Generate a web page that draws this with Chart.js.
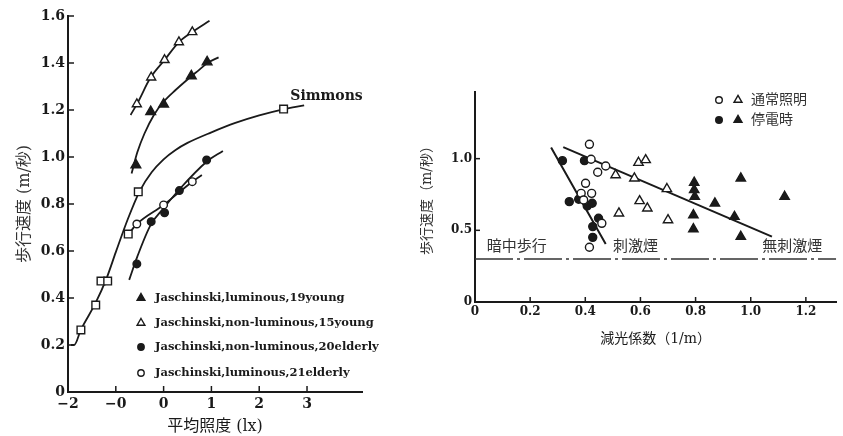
<!DOCTYPE html>
<html>
<head>
<meta charset="utf-8">
<script src="https://cdn.jsdelivr.net/npm/chart.js@4.4.0/dist/chart.umd.min.js"></script>
<style>
  html, body { margin: 0; padding: 0; background: #fff; }
  #leftChart { position: absolute; left: 0; top: 0; }
  #rightChart { position: absolute; left: 420px; top: 0; }
</style>
</head>
<body>
<canvas id="leftChart" width="420" height="436"></canvas>
<canvas id="rightChart" width="423" height="436"></canvas>
<script>
// ---- left chart: 平均照度 (log lx) vs 歩行速度
const xTicksLeft = [-2, -1, 0, 1, 2, 3];
const xTickLabelsLeft = ["−2", "−0", "0", "1", "2", "3"];
const yTicksLeft = [0, 0.2, 0.4, 0.6, 0.8, 1.0, 1.2, 1.4, 1.6];
const yTickLabelsLeft = ["0", "0.2", "0.4", "0.6", "0.8", "1.0", "1.2", "1.4", "1.6"];

const lumYoungX = [-0.58, -0.27, 0.0, 0.58, 0.91];
const lumYoungY = [0.966, 1.193, 1.225, 1.345, 1.404];
const lumYoungCurveX = [-0.67, -0.55, -0.4, -0.2, 0.0, 0.25, 0.5, 0.75, 0.91, 1.15];
const lumYoungCurveY = [0.93, 1.02, 1.1, 1.18, 1.235, 1.285, 1.33, 1.372, 1.399, 1.424];

const nonLumYoungX = [-0.56, -0.26, 0.02, 0.32, 0.6];
const nonLumYoungY = [1.225, 1.339, 1.413, 1.489, 1.532];
const nonLumYoungCurveX = [-0.69, -0.55, -0.27, 0.02, 0.32, 0.6, 0.96];
const nonLumYoungCurveY = [1.179, 1.228, 1.339, 1.413, 1.489, 1.532, 1.58];

const nonLumElderlyX = [-0.56, -0.26, 0.02, 0.33, 0.9];
const nonLumElderlyY = [0.545, 0.725, 0.763, 0.857, 0.987];
const nonLumElderlyCurveX = [-0.72, -0.55, -0.27, 0.0, 0.35, 0.9, 1.24];
const nonLumElderlyCurveY = [0.477, 0.576, 0.711, 0.782, 0.867, 0.98, 1.026];

const lumElderlyX = [-0.56, 0.0, 0.6];
const lumElderlyY = [0.715, 0.796, 0.895];
const lumElderlyCurveX = [-0.74, -0.56, 0.0, 0.6, 0.8];
const lumElderlyCurveY = [0.671, 0.715, 0.796, 0.895, 0.923];

const simmonsX = [-1.73, -1.42, -1.31, -1.17, -0.74, -0.53, 2.51];
const simmonsY = [0.264, 0.37, 0.472, 0.472, 0.672, 0.852, 1.204];
const simmonsCurveX = [-1.94, -1.87, -1.73, -1.42, -1.2, -1.0, -0.75, -0.5, -0.25, 0.0, 0.25, 0.5, 1.0, 1.5, 2.0, 2.5, 2.94];
const simmonsCurveY = [0.2, 0.2, 0.265, 0.38, 0.48, 0.595, 0.735, 0.855, 0.935, 0.99, 1.03, 1.06, 1.105, 1.145, 1.177, 1.203, 1.22];

const legendLeft = [
  "Jaschinski,luminous,19young",
  "Jaschinski,non-luminous,15young",
  "Jaschinski,non-luminous,20elderly",
  "Jaschinski,luminous,21elderly",
];

// ---- right chart: 減光係数 vs 歩行速度
const xTicksRight = [0, 0.2, 0.4, 0.6, 0.8, 1.0, 1.2];
const xTickLabelsRight = ["0", "0.2", "0.4", "0.6", "0.8", "1.0", "1.2"];
const yTicksRight = [0, 0.5, 1.0];
const yTickLabelsRight = ["0", "0.5", "1.0"];

const normalCircleX = [0.415, 0.421, 0.474, 0.445, 0.401, 0.385, 0.423, 0.394, 0.46, 0.415];
const normalCircleY = [1.10, 0.996, 0.949, 0.905, 0.828, 0.758, 0.758, 0.712, 0.549, 0.382];
const outageCircleX = [0.317, 0.397, 0.342, 0.376, 0.407, 0.425, 0.448, 0.427, 0.427];
const outageCircleY = [0.986, 0.986, 0.70, 0.717, 0.67, 0.689, 0.584, 0.526, 0.451];
const normalTriX = [0.593, 0.619, 0.51, 0.578, 0.696, 0.597, 0.625, 0.522, 0.70];
const normalTriY = [0.972, 0.991, 0.886, 0.863, 0.789, 0.705, 0.654, 0.619, 0.572];
const outageTriX = [0.795, 0.795, 0.797, 0.792, 0.792, 0.87, 0.941, 0.964, 0.964, 1.123];
const outageTriY = [0.833, 0.782, 0.735, 0.607, 0.509, 0.689, 0.595, 0.863, 0.456, 0.735];

const steepLineX = [0.276, 0.474];
const steepLineY = [1.077, 0.405];
const shallowLineX = [0.32, 1.077];
const shallowLineY = [1.08, 0.456];
const darkWalkX = [0, 1.31];
const darkWalkY = [0.3, 0.3];

const regionLabels = ["暗中歩行", "刺激煙", "無刺激煙"];
const regionLabelX = [0.151, 0.582, 1.151];
const legendRight = ["通常照明", "停電時"];

const pts = (xs, ys) => xs.map((x, i) => ({ x: x, y: ys[i] }));

const INK = "#1a1a1a";
const SERIF = "'DejaVu Serif', 'Noto Sans CJK JP', serif";
const CJK = "'DejaVu Serif', 'Noto Sans CJK JP', sans-serif";

function markerSet(data, style, filled, radius) {
  return {
    data: data,
    showLine: false,
    pointStyle: style,
    pointRadius: radius,
    pointBorderWidth: 1.4,
    pointBorderColor: INK,
    pointBackgroundColor: filled ? INK : "#fff",
    order: 0,
  };
}

function curveSet(data, width) {
  return {
    data: data,
    showLine: true,
    pointRadius: 0,
    borderColor: INK,
    borderWidth: width || 1.8,
    cubicInterpolationMode: "monotone",
    order: 1,
  };
}

function drawMarker(ctx, style, filled, x, y, r) {
  ctx.save();
  ctx.beginPath();
  if (style === "triangle") {
    ctx.moveTo(x, y - r);
    ctx.lineTo(x + r * 0.866, y + r * 0.5);
    ctx.lineTo(x - r * 0.866, y + r * 0.5);
    ctx.closePath();
  } else {
    ctx.arc(x, y, r, 0, Math.PI * 2);
  }
  ctx.lineWidth = 1.4;
  ctx.strokeStyle = INK;
  ctx.fillStyle = filled ? INK : "#fff";
  ctx.fill();
  ctx.stroke();
  ctx.restore();
}

// short tick marks drawn on the inner side of both axes
function innerTicks(chart, xVals, yVals, len) {
  const ctx = chart.ctx;
  const xs = chart.scales.x, ys = chart.scales.y;
  const a = chart.chartArea;
  ctx.save();
  ctx.strokeStyle = INK;
  ctx.lineWidth = 1.5;
  xVals.forEach((v) => {
    const px = xs.getPixelForValue(v);
    if (px - a.left < 3) return;
    ctx.beginPath();
    ctx.moveTo(px, a.bottom);
    ctx.lineTo(px, a.bottom - len);
    ctx.stroke();
  });
  yVals.forEach((v) => {
    const py = ys.getPixelForValue(v);
    if (a.bottom - py < 3) return;
    ctx.beginPath();
    ctx.moveTo(a.left, py);
    ctx.lineTo(a.left + len, py);
    ctx.stroke();
  });
  ctx.restore();
}

const leftDecor = {
  id: "leftDecor",
  afterDraw(chart) {
    const ctx = chart.ctx;
    innerTicks(chart, xTicksLeft, yTicksLeft, 6);
    const styles = [["triangle", true], ["triangle", false], ["circle", true], ["circle", false]];
    const rowY = [298, 323, 347, 373];
    ctx.save();
    ctx.font = "bold 11.5px " + SERIF;
    ctx.fillStyle = INK;
    ctx.textBaseline = "middle";
    legendLeft.forEach((t, i) => {
      const r = styles[i][0] === "triangle" ? 4.5 : 3.2;
      drawMarker(ctx, styles[i][0], styles[i][1], 141, rowY[i], r);
      ctx.fillText(t, 155, rowY[i]);
    });
    ctx.font = "bold 14px " + SERIF;
    ctx.fillText("Simmons", chart.scales.x.getPixelForValue(2.65), chart.scales.y.getPixelForValue(1.26));
    ctx.restore();
  },
};

const rightDecor = {
  id: "rightDecor",
  afterDraw(chart) {
    const ctx = chart.ctx;
    innerTicks(chart, xTicksRight, yTicksRight, 5);
    const ys = chart.scales.y, xs = chart.scales.x;
    ctx.save();
    ctx.fillStyle = "#333";
    ctx.textBaseline = "middle";
    ctx.textAlign = "center";
    ctx.font = "15px " + CJK;
    regionLabels.forEach((t, i) => {
      ctx.fillText(t, xs.getPixelForValue(regionLabelX[i]), ys.getPixelForValue(0.384));
    });
    ctx.textAlign = "left";
    ctx.font = "14px " + CJK;
    const rowY = [100, 120];
    legendRight.forEach((t, i) => {
      const filled = i === 1;
      drawMarker(ctx, "circle", filled, 299, rowY[i], 3.3);
      drawMarker(ctx, "triangle", filled, 318, rowY[i], 4.6);
      ctx.fillText(t, 331, rowY[i]);
    });
    ctx.restore();
  },
};

function axisBase(font) {
  return {
    type: "linear",
    grid: { display: true, drawOnChartArea: false, drawTicks: false },
    border: { display: true, color: INK, width: 2 },
    ticks: { color: INK, font: font },
  };
}

const tickFontL = { family: SERIF, weight: "bold", size: 14 };
const tickFontR = { family: SERIF, weight: "bold", size: 12 };

new Chart(document.getElementById("leftChart").getContext("2d"), {
  type: "scatter",
  data: {
    datasets: [
      markerSet(pts(lumYoungX, lumYoungY), "triangle", true, 5.6),
      markerSet(pts(nonLumYoungX, nonLumYoungY), "triangle", false, 5.2),
      markerSet(pts(nonLumElderlyX, nonLumElderlyY), "circle", true, 3.8),
      markerSet(pts(lumElderlyX, lumElderlyY), "circle", false, 3.8),
      markerSet(pts(simmonsX, simmonsY), "rect", false, 5.4),
      curveSet(pts(lumYoungCurveX, lumYoungCurveY)),
      curveSet(pts(nonLumYoungCurveX, nonLumYoungCurveY)),
      curveSet(pts(nonLumElderlyCurveX, nonLumElderlyCurveY)),
      curveSet(pts(lumElderlyCurveX, lumElderlyCurveY)),
      curveSet(pts(simmonsCurveX, simmonsCurveY)),
    ],
  },
  options: {
    responsive: false,
    animation: false,
    layout: { padding: { left: 0, top: 16, right: 58, bottom: 0 } },
    plugins: { legend: { display: false }, tooltip: { enabled: false } },
    scales: {
      x: Object.assign(axisBase(tickFontL), {
        min: -2,
        max: 4.15,
        afterBuildTicks: (s) => { s.ticks = xTicksLeft.map((v) => ({ value: v })); },
        afterFit: (s) => { s.height = 44; },
        title: { display: true, text: "平均照度 (lx)", color: INK, font: { family: CJK, size: 16 }, padding: { top: 0, bottom: 0 } },
      }),
      y: Object.assign(axisBase(tickFontL), {
        min: 0,
        max: 1.6,
        afterBuildTicks: (s) => { s.ticks = yTicksLeft.map((v) => ({ value: v })); },
        afterFit: (s) => { s.width = 68; },
        title: { display: true, text: "歩行速度 (m/秒)", color: "#333", font: { family: CJK, size: 16 }, padding: { top: 15, bottom: 0 } },
      }),
    },
  },
  plugins: [leftDecor],
});

const leftChart = Chart.getChart("leftChart");
leftChart.options.scales.x.ticks.callback = (v) => xTickLabelsLeft[xTicksLeft.indexOf(v)];
leftChart.options.scales.x.ticks.padding = 4;
leftChart.options.scales.y.ticks.callback = (v) => yTickLabelsLeft[yTicksLeft.indexOf(v)];
leftChart.options.scales.y.ticks.padding = 3;
leftChart.update();

new Chart(document.getElementById("rightChart").getContext("2d"), {
  type: "scatter",
  data: {
    datasets: [
      markerSet(pts(normalCircleX, normalCircleY), "circle", false, 4),
      markerSet(pts(outageCircleX, outageCircleY), "circle", true, 4),
      markerSet(pts(normalTriX, normalTriY), "triangle", false, 5.4),
      markerSet(pts(outageTriX, outageTriY), "triangle", true, 5.4),
      curveSet(pts(steepLineX, steepLineY), 2),
      curveSet(pts(shallowLineX, shallowLineY), 2),
      Object.assign(curveSet(pts(darkWalkX, darkWalkY), 1.3), { borderDash: [38, 4, 3, 4], borderColor: "#333" }),
    ],
  },
  options: {
    responsive: false,
    animation: false,
    layout: { padding: { left: 0, top: 92, right: 0, bottom: 86 } },
    plugins: { legend: { display: false }, tooltip: { enabled: false } },
    scales: {
      x: Object.assign(axisBase(tickFontR), {
        min: 0,
        max: 1.31,
        afterBuildTicks: (s) => { s.ticks = xTicksRight.map((v) => ({ value: v })); },
        afterFit: (s) => { s.height = 48; },
        title: { display: true, text: "減光係数（1/m）", color: INK, font: { family: CJK, size: 14 }, padding: { top: 0, bottom: 2 } },
      }),
      y: Object.assign(axisBase(tickFontR), {
        min: 0,
        max: 1.465,
        afterBuildTicks: (s) => { s.ticks = yTicksRight.map((v) => ({ value: v })); },
        afterFit: (s) => { s.width = 55; },
        title: { display: true, text: "歩行速度（m/秒）", color: "#333", font: { family: CJK, size: 14, lineHeight: 1 }, padding: { top: 0, bottom: 0 } },
      }),
    },
  },
  plugins: [rightDecor],
});

const rightChart = Chart.getChart("rightChart");
rightChart.options.scales.x.ticks.callback = (v) => xTickLabelsRight[xTicksRight.indexOf(v)];
rightChart.options.scales.x.ticks.padding = 3;
rightChart.options.scales.y.ticks.callback = (v) => yTickLabelsRight[yTicksRight.indexOf(v)];
rightChart.options.scales.y.ticks.padding = 3;
rightChart.update();
</script>
</body>
</html>
